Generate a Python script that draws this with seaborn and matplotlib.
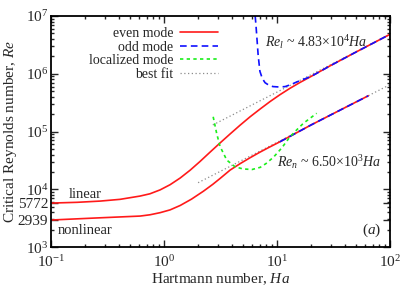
import pandas as pd
import matplotlib
matplotlib.use("Agg")
import matplotlib.pyplot as plt
import seaborn as sns

# even mode, linear (upper) branch
ha_lin = [0.1, 0.17, 0.272, 0.408, 0.614, 0.75, 0.923, 1.13, 1.39, 1.7, 2.08, 2.55,
          3.13, 3.84, 4.71, 5.77, 7.07, 8.66, 10.6, 13, 16, 20, 30, 50, 100]
re_lin = [5772, 5950, 6250, 6700, 7640, 8360, 9770, 1.2e4, 1.57e4, 2.14e4, 3.03e4,
          4.39e4, 6.34e4, 9.08e4, 1.29e5, 1.80e5, 2.45e5, 3.30e5, 4.34e5, 5.6e5,
          7.1e5, 9.0e5, 1.40e6, 2.38e6, 4.83e6]

# even mode, nonlinear (lower) branch
ha_nl = [0.1, 0.272, 0.614, 0.75, 0.923, 1.13, 1.39, 1.75, 2.23, 2.7, 3.13, 3.84,
         4.71, 5.77, 7.0, 8.5, 10.6, 20, 40, 64]
re_nl = [2939, 3210, 3440, 3620, 3940, 4400, 5250, 6760, 9270, 1.22e4, 1.54e4,
         2.15e4, 2.78e4, 3.52e4, 4.36e4, 5.33e4, 6.65e4, 1.3e5, 2.6e5, 4.15e5]

# odd mode
ha_odd_l = [6.4, 6.5, 6.6, 6.8, 7.05, 7.4, 7.83, 8.5, 9.2, 10.5, 11.8, 13.5, 14.9,
            20, 30, 50, 100]
re_odd_l = [1e7, 7e6, 4.7e6, 2.1e6, 1.1e6, 8.3e5, 7.0e5, 6.3e5, 6.0e5, 5.9e5, 6.0e5,
            6.6e5, 7.2e5, 9.0e5, 1.40e6, 2.38e6, 4.83e6]
ha_odd_n = [10.6, 20, 40, 64]
re_odd_n = [6.65e4, 1.3e5, 2.6e5, 4.15e5]

# localized mode
ha_loc = [2.72, 2.92, 3.13, 3.59, 4.25, 5.0, 6.0, 7.1, 8.0, 9.3, 11, 13, 15, 17.1, 20, 22.4]
re_loc = [1.8e5, 9.3e4, 5.5e4, 3.2e4, 2.45e4, 2.25e4, 2.2e4, 2.4e4, 2.8e4, 3.6e4,
          5.2e4, 8.1e4, 1.08e5, 1.39e5, 1.75e5, 2.07e5]

# best fits
ha_fit_l = [2.7, 100]
re_fit_l = [1.3e5, 4.83e6]
ha_fit_n = [2.0, 100]
re_fit_n = [1.3e4, 6.5e5]

sns.set_style("ticks")
plt.rcParams['font.family'] = ['Liberation Serif', 'DejaVu Serif']
plt.rcParams['mathtext.fontset'] = 'custom'
plt.rcParams['mathtext.rm'] = 'Liberation Serif'
plt.rcParams['mathtext.it'] = 'Liberation Serif:italic'

fig = plt.figure(figsize=(4.15, 2.91), dpi=100)
ax = fig.add_axes([0.123, 0.151, 0.817, 0.794])

red = '#ff1a1a'
blue = '#1010ff'
green = '#1aee1a'
grey = '#8c8c8c'

sns.lineplot(x=ha_fit_l, y=re_fit_l, ax=ax, color=grey, lw=0.9, ls=(0, (1, 2)), label='best fit', sort=False)
sns.lineplot(x=ha_fit_n, y=re_fit_n, ax=ax, color=grey, lw=0.9, ls=(0, (1, 2)), sort=False)
sns.lineplot(x=ha_lin, y=re_lin, ax=ax, color=red, lw=1.2, label='even mode', sort=False)
sns.lineplot(x=ha_nl, y=re_nl, ax=ax, color=red, lw=1.2, sort=False)
sns.lineplot(x=ha_odd_l, y=re_odd_l, ax=ax, color=blue, lw=1.2, ls=(0, (4, 2.5)), label='odd mode', sort=False)
sns.lineplot(x=ha_odd_n, y=re_odd_n, ax=ax, color=blue, lw=1.2, ls=(0, (4, 2.5)), sort=False)
sns.lineplot(x=ha_loc, y=re_loc, ax=ax, color=green, lw=1.2, ls=(0, (2, 2)), label='localized mode', sort=False)

ax.set_xscale('log')
ax.set_yscale('log')
ax.set_xlim(0.1, 100)
ax.set_ylim(1e3, 1e7)

ax.set_yticks([1e3, 2939, 5772, 1e4, 1e5, 1e6, 1e7])
ax.set_yticklabels([r'$10^3$', '2939', '5772', r'$10^4$', r'$10^5$', r'$10^6$', r'$10^7$'])
ax.set_xticks([0.1, 1, 10, 100])
ax.set_xticklabels([r'$10^{-1}$', r'$10^0$', r'$10^1$', r'$10^2$'])

ax.tick_params(which='both', direction='in', top=True, right=True, labelsize=11, width=1)
ax.tick_params(which='major', length=5)
ax.tick_params(axis='y', which='major', pad=2)
ax.tick_params(axis='x', which='major', pad=5)
ax.tick_params(which='minor', length=2.5)
for s in ax.spines.values():
    s.set_linewidth(1.3)
    s.set_color('black')

ax.set_xlabel(r'Hartmann number, $Ha$', fontsize=11, labelpad=1)
ax.set_ylabel(r'Critical Reynolds number, $Re$', fontsize=11)
ax.yaxis.set_label_coords(-0.095, 0.5)

handles, labels = ax.get_legend_handles_labels()
order = [labels.index(k) for k in ['even mode', 'odd mode', 'localized mode', 'best fit']]
ax.legend([handles[i] for i in order], [labels[i] for i in order], loc='upper right',
          bbox_to_anchor=(0.52, 0.995), frameon=False, markerfirst=False, fontsize=10,
          handlelength=2.7, labelspacing=0.05, borderaxespad=0.3, handletextpad=0.5)

ax.text(0.2, 8280, 'linear', fontsize=10.5, ha='center', va='center')
ax.text(0.198, 1970, 'nonlinear', fontsize=10.5, ha='center', va='center')
ax.text(7.8, 3.6e6, r'$Re_l$ ~ 4.83$\times$10$^4$$Ha$', fontsize=10, va='center')
ax.text(10.0, 3.0e4, r'$Re_n$ ~ 6.50$\times$10$^3$$Ha$', fontsize=10, va='center')
ax.text(0.975, 0.035, r'$(a)$', fontsize=11, transform=ax.transAxes, ha='right', va='bottom')

plt.savefig('out.png', dpi=100)
